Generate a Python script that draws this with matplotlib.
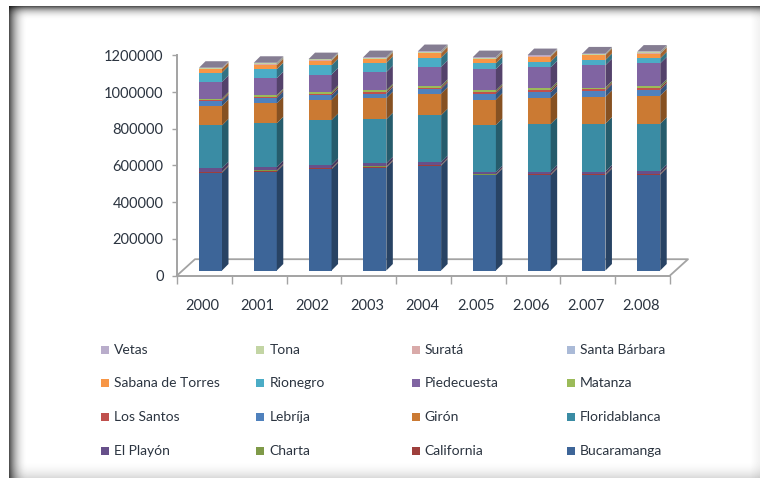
import numpy as np
import matplotlib
matplotlib.use("Agg")
import matplotlib.pyplot as plt
from matplotlib.patches import Rectangle

plt.rcParams["font.family"] = ["Lato", "DejaVu Sans"]

years = ["2000", "2001", "2002", "2003", "2004", "2.005", "2.006", "2.007", "2.008"]
y_ticks = [0, 200000, 400000, 600000, 800000, 1000000, 1200000]

bucaramanga = [533000, 539000, 552000, 561000, 572000, 520000, 520000, 520000, 522000]
california = [4000, 4000, 4000, 4000, 3000, 3000, 4000, 4000, 4000]
charta = [2000, 2000, 2000, 2000, 2000, 2000, 2000, 2000, 2000]
el_playon = [18000, 19000, 17000, 17000, 13000, 10000, 13000, 13000, 14000]
floridablanca = [234000, 238000, 245000, 240000, 256000, 258000, 259000, 261000, 258000]
giron = [106000, 109000, 110000, 115000, 118000, 138000, 141000, 146000, 153000]
lebrija = [25000, 30000, 25000, 25000, 24000, 33000, 32000, 33000, 31000]
los_santos = [8000, 7000, 9000, 9000, 9000, 9000, 11000, 9000, 11000]
matanza = [7000, 7000, 9000, 9000, 9000, 8000, 10000, 9000, 11000]
piedecuesta = [91000, 93000, 95000, 99000, 104000, 116000, 115000, 122000, 123000]
rionegro = [51000, 49000, 51000, 50000, 50000, 32000, 31000, 28000, 27000]
sabana = [19000, 22000, 24000, 21000, 23000, 22000, 27000, 27000, 24000]
santa_barbara = [1000, 2000, 1000, 1000, 2000, 2000, 1000, 1000, 2000]
surata = [1000, 2000, 1000, 1000, 2000, 2000, 1000, 1000, 2000]
tona = [3000, 6000, 5000, 6000, 6000, 5000, 4000, 4000, 6000]
vetas = [2000, 3000, 2000, 3000, 3000, 3000, 3000, 3000, 3000]

series = [bucaramanga, california, charta, el_playon, floridablanca, giron, lebrija, los_santos,
          matanza, piedecuesta, rionegro, sabana, santa_barbara, surata, tona, vetas]
colors = ["#3D6598", "#9E3F3C", "#7F9A48", "#67508A", "#3A8CA4", "#CB7A33", "#4F81BD", "#C0504D",
          "#9BBB59", "#8064A2", "#4BACC6", "#F79646", "#AABAD7", "#D9AAA9", "#C3D5A4", "#B9ADCB"]

legend_rows = [["Vetas", "Tona", "Suratá", "Santa Bárbara"],
               ["Sabana de Torres", "Rionegro", "Piedecuesta", "Matanza"],
               ["Los Santos", "Lebríja", "Girón", "Floridablanca"],
               ["El Playón", "Charta", "California", "Bucaramanga"]]
legend_colors = [[15, 14, 13, 12], [11, 10, 9, 8], [7, 6, 5, 4], [3, 2, 1, 0]]

W, H = 760, 478
text_color = "#2b3440"
axis_color = "#a3a3a3"


def shade(c, f):
    return tuple(v * f for v in matplotlib.colors.to_rgb(c))


fig = plt.figure(figsize=(W / 100, H / 100), dpi=100)

# shadowed picture frame
bg = fig.add_axes([0, 0, 1, 1], zorder=0)
xx = np.arange(W)
yy = np.arange(H)
left = 1 - 0.68 * np.clip(1 - (xx - 9) / 19, 0, 1) ** 2.3
right = 1 - 0.06 * np.clip((xx - 750) / 10, 0, 1)
top = 1 - 0.66 * np.clip(1 - (yy - 6) / 16, 0, 1) ** 3
bottom = 1 - 0.16 * np.clip((yy - 460) / 18, 0, 1) ** 2
shadow = np.outer(top * bottom, left * right)
shadow[:6, :] = 1
shadow[:, :9] = 1
bg.imshow(shadow, cmap="gray", vmin=0, vmax=1, aspect="auto", interpolation="nearest")
bg.axis("off")

ax = fig.add_axes([177 / W, (H - 275.5) / H, 493 / W, 220.2 / H], zorder=1)
ax.patch.set_alpha(0)
ax.set_xlim(0, 9)
ax.set_ylim(0, 1200000)

px_x = 9 / 493
px_y = 1200000 / 220.2

# floor of the 3D box
floor_x = 18 * px_x
floor_y = 16.3 * px_y
ax.plot([0, floor_x, 9 + floor_x, 9], [0, floor_y, floor_y, 0], color=axis_color, lw=1.3,
        clip_on=False, zorder=1)

# bars with side and top faces
bar_w = 23 * px_x
depth_x = 6.5 * px_x
depth_y = 6.5 * px_y
base = 5 * px_y
for i in range(len(years)):
    x0 = i + 22 * px_x
    bottom_v = base
    for vals, c in zip(series, colors):
        v = vals[i]
        ax.bar(x0, v, bar_w, bottom=bottom_v, align="edge", color=c, lw=0, clip_on=False, zorder=3)
        ax.fill([x0 + bar_w, x0 + bar_w + depth_x, x0 + bar_w + depth_x, x0 + bar_w],
                [bottom_v, bottom_v + depth_y, bottom_v + v + depth_y, bottom_v + v],
                color=shade(c, 0.66), lw=0, clip_on=False, zorder=3)
        bottom_v += v
    ax.fill([x0, x0 + bar_w, x0 + bar_w + depth_x, x0 + depth_x],
            [bottom_v, bottom_v, bottom_v + depth_y, bottom_v + depth_y],
            color=shade(colors[-1], 0.72), lw=0, clip_on=False, zorder=3)

for s in ["top", "right"]:
    ax.spines[s].set_visible(False)
for s in ["left", "bottom"]:
    ax.spines[s].set_color(axis_color)
    ax.spines[s].set_linewidth(1.4)

ax.set_yticks(y_ticks)
ax.set_yticklabels([str(t) for t in y_ticks])
ax.set_xticks(np.arange(len(years)) + 0.47)
ax.set_xticklabels(years)
ax.set_xticks(np.arange(len(years) + 1), minor=True)
ax.tick_params(axis="y", length=3.6, width=1, color=axis_color, pad=6, labelsize=10.5, labelcolor=text_color)
ax.tick_params(axis="x", which="major", length=0, pad=17, labelsize=10.5, labelcolor=text_color)
ax.tick_params(axis="x", which="minor", length=5.5, width=1, color=axis_color)

# legend laid out as four even columns, reading order as in the source chart
for r, (row, idx) in enumerate(zip(legend_rows, legend_colors)):
    ypos = 349.5 + r * 33.7
    for col, (name, k) in enumerate(zip(row, idx)):
        xpos = 101 + col * 155.3
        fig.add_artist(Rectangle((xpos / W, (H - ypos - 4) / H), 8 / W, 8 / H, color=colors[k], lw=0,
                                 transform=fig.transFigure))
        fig.text((xpos + 13) / W, (H - ypos) / H, name, fontsize=10, color=text_color, va="center")

fig.savefig("out.png", dpi=100)
plt.close(fig)
